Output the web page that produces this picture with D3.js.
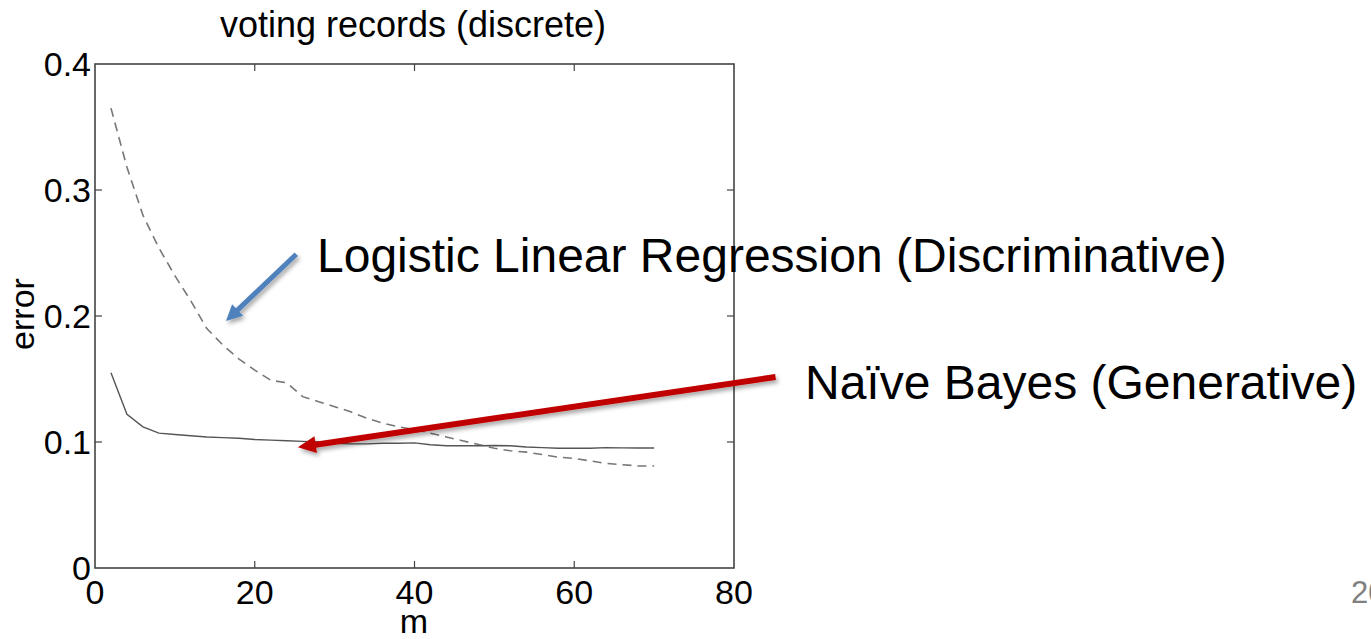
<!DOCTYPE html>
<html>
<head>
<meta charset="utf-8">
<script src="https://cdn.jsdelivr.net/npm/d3@7/dist/d3.min.js"></script>
<style>
  html, body { margin: 0; padding: 0; background: #fff; overflow: hidden; }
  text { font-family: "Liberation Sans", Arial, Helvetica, sans-serif; }
</style>
</head>
<body>
<svg id="chart" width="1371" height="639"></svg>
<script>
// ---- data ----
const mValues = [2,4,6,8,10,12,14,16,18,20,22,24,26,28,30,32,34,36,38,40,42,44,46,48,50,52,54,56,58,60,62,64,66,68,70];
const naiveBayes = [0.155,0.122,0.112,0.107,0.106,0.105,0.104,0.1035,0.103,0.102,0.1015,0.101,0.1005,0.100,0.099,0.0985,0.0985,0.099,0.099,0.0993,0.0978,0.097,0.097,0.097,0.0972,0.097,0.096,0.0955,0.095,0.095,0.095,0.0955,0.0953,0.0952,0.0952];
const logistic = [0.365,0.318,0.280,0.254,0.232,0.212,0.190,0.177,0.166,0.157,0.149,0.147,0.136,0.132,0.128,0.124,0.119,0.115,0.112,0.110,0.107,0.104,0.101,0.098,0.095,0.093,0.092,0.090,0.088,0.087,0.085,0.083,0.082,0.081,0.081];
const xTicks = [0,20,40,60,80];
const yTicks = [0,0.1,0.2,0.3,0.4];
const yTickLabels = ["0","0.1","0.2","0.3","0.4"];
const title = "voting records (discrete)";
const xLabel = "m";
const yLabel = "error";
const labelLogistic = "Logistic Linear Regression (Discriminative)";
const labelNB = "Naïve Bayes (Generative)";
const pageNum = "20";

// ---- layout ----
const svg = d3.select("#chart");
const x = d3.scaleLinear().domain([0,80]).range([95,734]);
const y = d3.scaleLinear().domain([0,0.4]).range([568,64]);

const defs = svg.append("defs");
const f = defs.append("filter").attr("id","shadow").attr("x","-20%").attr("y","-50%").attr("width","140%").attr("height","200%");
f.append("feDropShadow").attr("dx",2).attr("dy",3).attr("stdDeviation",2).attr("flood-color","#000").attr("flood-opacity",0.35);

// title
svg.append("text").attr("x",413).attr("y",37).attr("text-anchor","middle")
  .attr("font-size",36).attr("fill","#000").text(title);

// box
svg.append("rect").attr("x",x(0)).attr("y",y(0.4)).attr("width",x(80)-x(0)).attr("height",y(0)-y(0.4))
  .attr("fill","none").attr("stroke","#444").attr("stroke-width",1.6);

// ticks inward on all sides
const tl = 7;
xTicks.slice(1,-1).forEach(t => {
  svg.append("line").attr("x1",x(t)).attr("x2",x(t)).attr("y1",y(0)).attr("y2",y(0)-tl).attr("stroke","#444").attr("stroke-width",1.2);
  svg.append("line").attr("x1",x(t)).attr("x2",x(t)).attr("y1",y(0.4)).attr("y2",y(0.4)+tl).attr("stroke","#444").attr("stroke-width",1.2);
});
yTicks.slice(1,-1).forEach(t => {
  svg.append("line").attr("x1",x(0)).attr("x2",x(0)+tl).attr("y1",y(t)).attr("y2",y(t)).attr("stroke","#444").attr("stroke-width",1.2);
  svg.append("line").attr("x1",x(80)).attr("x2",x(80)-tl).attr("y1",y(t)).attr("y2",y(t)).attr("stroke","#444").attr("stroke-width",1.2);
});

// tick labels
svg.selectAll(".xt").data(xTicks).enter().append("text")
  .attr("x",d=>x(d)).attr("y",604).attr("text-anchor","middle").attr("font-size",34).attr("fill","#000").text(d=>d);
svg.selectAll(".yt").data(yTicks).enter().append("text")
  .attr("x",91).attr("y",d=>y(d)+12).attr("text-anchor","end").attr("font-size",34).attr("fill","#000")
  .text((d,i)=>yTickLabels[i]);

// axis labels
svg.append("text").attr("x",414).attr("y",633).attr("text-anchor","middle").attr("font-size",34).attr("fill","#000").text(xLabel);
svg.append("text").attr("transform","translate(34,314) rotate(-90)").attr("text-anchor","middle").attr("font-size",34).attr("fill","#000").text(yLabel);

// lines
const line = d3.line().x(d=>x(d[0])).y(d=>y(d[1]));
svg.append("path").datum(mValues.map((m,i)=>[m,logistic[i]])).attr("d",line)
  .attr("fill","none").attr("stroke","#777").attr("stroke-width",1.6).attr("stroke-dasharray","9,6");
svg.append("path").datum(mValues.map((m,i)=>[m,naiveBayes[i]])).attr("d",line)
  .attr("fill","none").attr("stroke","#555").attr("stroke-width",1.4);

// arrows (in data coordinates)
function arrow(x0,y0,x1,y1,color,w,headL,headW){
  const px0=x(x0), py0=y(y0), px1=x(x1), py1=y(y1);
  const dx=px1-px0, dy=py1-py0, L=Math.hypot(dx,dy), ux=dx/L, uy=dy/L;
  const bx=px1-ux*headL, by=py1-uy*headL;
  const g=svg.append("g").attr("filter","url(#shadow)");
  g.append("line").attr("x1",px0).attr("y1",py0).attr("x2",bx+ux*2).attr("y2",by+uy*2)
    .attr("stroke",color).attr("stroke-width",w);
  g.append("path").attr("d",`M${px1},${py1} L${bx-uy*headW/2},${by+ux*headW/2} L${bx+uy*headW/2},${by-ux*headW/2} Z`)
    .attr("fill",color);
}
arrow(25.2,0.249,16.4,0.196,"#4F81BD",5,16,16);
arrow(85.2,0.1516,25.4,0.0958,"#C00000",6,18,17);

// annotation labels
svg.append("text").attr("x",317).attr("y",272).attr("font-size",48).attr("fill","#000").text(labelLogistic);
svg.append("text").attr("x",805).attr("y",399).attr("font-size",48).attr("fill","#000").text(labelNB);

// page number (clipped at right edge)
svg.append("text").attr("x",1351).attr("y",603).attr("font-size",31).attr("fill","#808080").text(pageNum);
</script>
</body>
</html>
